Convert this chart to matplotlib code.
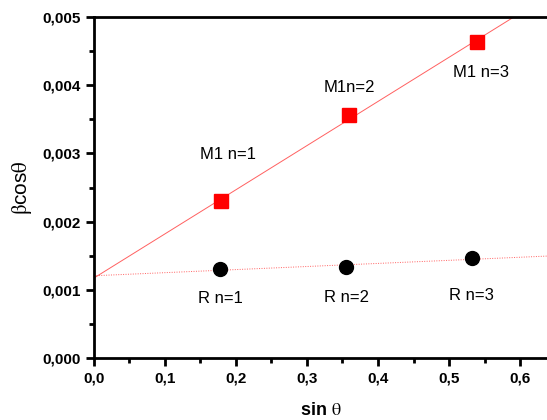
import numpy as np
import matplotlib.pyplot as plt
from matplotlib.ticker import MultipleLocator, FuncFormatter

plt.rcParams['font.family'] = ['Liberation Sans', 'DejaVu Sans']
plt.rcParams['mathtext.fontset'] = 'stix'

# Williamson-Hall data: sin(theta) vs beta*cos(theta)
sin_m1 = [0.179, 0.359, 0.539]
bcos_m1 = [0.00230, 0.00356, 0.00463]
labels_m1 = ['M1 n=1', 'M1n=2', 'M1 n=3']

sin_r = [0.178, 0.355, 0.532]
bcos_r = [0.00130, 0.00134, 0.00146]
labels_r = ['R n=1', 'R n=2', 'R n=3']


def comma(v, nd):
    return f'{v:.{nd}f}'.replace('.', ',')


def main():
    fig = plt.figure(figsize=(5.47, 4.2), dpi=100)
    ax = fig.add_axes([0.1718, 0.1476, 0.8282, 0.8119])

    xs = np.linspace(0, 0.7, 50)
    k, b = np.polyfit(sin_m1, bcos_m1, 1)
    ax.plot(xs, k * xs + b, color='#ff6060', lw=0.7)
    k, b = np.polyfit(sin_r, bcos_r, 1)
    ax.plot(xs, k * xs + b, color='#ff6060', lw=0.7, ls=(0, (1, 1.5)))

    ax.plot(sin_m1, bcos_m1, 's', color='red', ms=9.5)
    ax.plot(sin_r, bcos_r, 'o', color='black', ms=10)

    # label offsets (dx, dy) from each point
    offs_m1 = [(0.010, 0.00068), (0.0, 0.00041), (0.006, -0.00044)]
    offs_r = [(0.0, -0.00043), (0.0, -0.00045), (0.0, -0.00055)]
    for x, y, t, (dx, dy) in zip(sin_m1, bcos_m1, labels_m1, offs_m1):
        ax.text(x + dx, y + dy, t, ha='center', va='center', fontsize=12)
    for x, y, t, (dx, dy) in zip(sin_r, bcos_r, labels_r, offs_r):
        ax.text(x + dx, y + dy, t, ha='center', va='center', fontsize=12)

    ax.set_xlim(0, 0.638)
    ax.set_ylim(0, 0.005)
    ax.xaxis.set_major_locator(MultipleLocator(0.1))
    ax.xaxis.set_minor_locator(MultipleLocator(0.05))
    ax.yaxis.set_major_locator(MultipleLocator(0.001))
    ax.yaxis.set_minor_locator(MultipleLocator(0.0005))
    ax.xaxis.set_major_formatter(FuncFormatter(lambda v, p: comma(v, 1)))
    ax.yaxis.set_major_formatter(FuncFormatter(lambda v, p: comma(v, 3)))

    for s in ax.spines.values():
        s.set_linewidth(2)
    ax.spines['right'].set_visible(False)
    ax.tick_params(which='major', direction='out', length=6, width=2,
                   labelsize=11)
    ax.tick_params(which='minor', direction='out', length=3.5, width=2)
    for lab in ax.get_xticklabels() + ax.get_yticklabels():
        lab.set_fontweight('bold')

    ax.set_xlabel(r'sin $\mathrm{\theta}$', fontsize=13, fontweight='bold',
                  labelpad=12)
    ax.set_ylabel(r'$\mathrm{\beta}$cos$\mathrm{\theta}$', fontsize=15,
                  labelpad=6)

    fig.savefig('out.png', dpi=100)


if __name__ == '__main__':
    main()
